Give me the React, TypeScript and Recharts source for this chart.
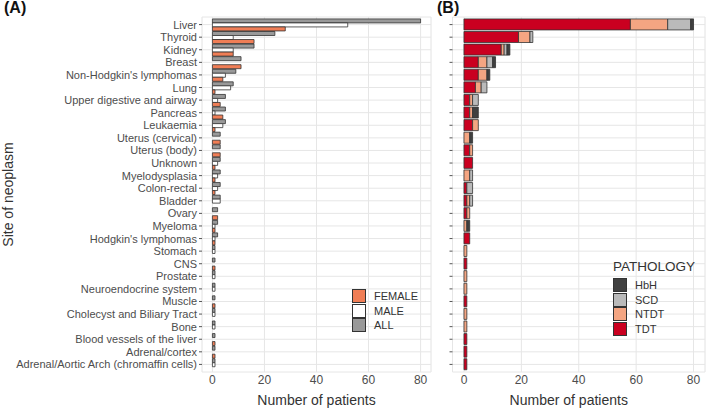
import React from "react";
import {
  BarChart, Bar, XAxis, YAxis, CartesianGrid,
} from "recharts";

// sites, top to bottom
const sites = [
  "Liver", "Thyroid", "Kidney", "Breast", "Non-Hodgkin's lymphomas", "Lung",
  "Upper digestive and airway", "Pancreas", "Leukaemia", "Uterus (cervical)",
  "Uterus (body)", "Unknown", "Myelodysplasia", "Colon-rectal", "Bladder",
  "Ovary", "Myeloma", "Hodgkin's lymphomas", "Stomach", "CNS", "Prostate",
  "Neuroendocrine system", "Muscle", "Cholecyst and Biliary Tract", "Bone",
  "Blood vessels of the liver", "Adrenal/cortex",
  "Adrenal/Aortic Arch (chromaffin cells)",
];

// (A) patients by sex
const female = [28, 16, 8, 11, 4, 1, 3, 4, 1, 3, 3, 1, 1, 1, 0, 2, 1, 1, 0, 1, 0, 0, 1, 0, 0, 1, 1, 0];
const male = [52, 8, 8, 0, 5, 7, 2, 1, 4, 0, 0, 2, 2, 2, 3, 0, 1, 1, 1, 0, 1, 1, 0, 1, 1, 0, 0, 1];
const all = [80, 24, 16, 11, 9, 8, 5, 5, 5, 3, 3, 3, 3, 3, 3, 2, 2, 2, 1, 1, 1, 1, 1, 1, 1, 1, 1, 1];

// (B) patients by pathology
const tdt = [58, 19, 13, 5, 5, 4, 2, 2, 3, 0, 2, 3, 0, 1, 1, 1, 0, 2, 0, 1, 0, 0, 1, 0, 0, 1, 1, 1];
const ntdt = [13, 4, 1, 3, 3, 2, 1, 1, 2, 2, 1, 0, 2, 0, 1, 1, 1, 0, 1, 0, 1, 1, 0, 1, 1, 0, 0, 0];
const scd = [8, 1, 1, 2, 0, 2, 2, 0, 0, 0, 0, 0, 1, 2, 1, 0, 0, 0, 0, 0, 0, 0, 0, 0, 0, 0, 0, 0];
const hbh = [1, 0, 1, 1, 1, 0, 0, 2, 0, 1, 0, 0, 0, 0, 0, 0, 1, 0, 0, 0, 0, 0, 0, 0, 0, 0, 0, 0];

const xTicks = [0, 20, 40, 60, 80];
const minorTicks = [10, 30, 50, 70];

const sexSeries = [
  { key: "all", name: "ALL", color: "#999999" },
  { key: "male", name: "MALE", color: "#ffffff" },
  { key: "female", name: "FEMALE", color: "#f07e56" },
];
const pathSeries = [
  { key: "tdt", name: "TDT", color: "#ca0020" },
  { key: "ntdt", name: "NTDT", color: "#f4a582" },
  { key: "scd", name: "SCD", color: "#bababa" },
  { key: "hbh", name: "HbH", color: "#404040" },
];

const rowsA = sites.map((site, i) => ({ site, female: female[i], male: male[i], all: all[i] }));
const rowsB = sites.map((site, i) => ({ site, tdt: tdt[i], ntdt: ntdt[i], scd: scd[i], hbh: hbh[i] }));

const txt = "#4d4d4d";
const grid = "#e6e6e6";

const SiteTick = (props: any) => (
  <text x={props.x} y={props.y} dy={4} textAnchor="end" fontSize={11} fill={txt}>
    {props.payload.value}
  </text>
);

function LegendBox({ items, title, left, top }: { items: { name: string; color: string }[]; title?: string; left: number; top: number }) {
  return (
    <div style={{ position: "absolute", left, top, fontSize: 11, color: "#333" }}>
      {title && <div style={{ fontSize: 13.5, marginBottom: 4 }}>{title}</div>}
      {items.map((it) => (
        <div key={it.name} style={{ display: "flex", alignItems: "center", height: 14.5 }}>
          <div style={{ width: 12, height: 12, background: it.color, border: "1px solid #333" }} />
          <span style={{ marginLeft: 8 }}>{it.name}</span>
        </div>
      ))}
    </div>
  );
}

// shared axes pieces for both panels
function gridAndX(dx: number) {
  return [
    <XAxis key="minor" xAxisId="minor" type="number" domain={[-4, 84]} ticks={minorTicks} hide />,
    <CartesianGrid key="gminor" xAxisId="minor" horizontal={false} stroke="#f1f1f1" strokeWidth={0.6} />,
    <CartesianGrid key="gmajor" stroke={grid} />,
    <XAxis key="x" type="number" domain={[-4, 84]} ticks={xTicks} axisLine={false} tickLine={false}
      tickSize={0} tickMargin={3} tick={{ fontSize: 12, fill: txt }} height={39}
      label={{ value: "Number of patients", position: "insideBottom", offset: 6, dx, fontSize: 14, fill: "#333" }} />,
  ];
}

export default function App() {
  return (
    <div style={{ position: "relative", width: 709, height: 411, fontFamily: "'Liberation Sans', Arial, sans-serif", background: "#fff" }}>
      <style>{`body{margin:0}`}</style>

      <div style={{ position: "absolute", left: 0, top: 0 }}>
        <BarChart width={440} height={411} data={rowsA} layout="vertical"
          margin={{ top: 17, right: 9, bottom: 0, left: 0 }} barCategoryGap="5%" barGap={0}>
          {gridAndX(0)}
          <YAxis type="category" dataKey="site" width={202} axisLine={false} tickSize={3} tickMargin={2}
            tickLine={{ stroke: "#555" }} interval={0} tick={<SiteTick />} padding={{ top: 1.3, bottom: 1.3 }}
            label={{ value: "Site of neoplasm", angle: -90, position: "insideLeft", offset: 8, fontSize: 14, fill: "#333", style: { textAnchor: "middle" } }} />
          {sexSeries.map((s) => (
            <Bar key={s.key} dataKey={s.key} name={s.name} fill={s.color} stroke="#333" strokeWidth={0.8} isAnimationActive={false} />
          ))}
        </BarChart>
      </div>

      <div style={{ position: "absolute", left: 440, top: 0 }}>
        <BarChart width={269} height={411} data={rowsB} layout="vertical"
          margin={{ top: 17, right: 4, bottom: 0, left: 0 }} barCategoryGap="5%">
          {gridAndX(-10)}
          <YAxis type="category" dataKey="site" width={12.5} axisLine={false} tickSize={3} tickMargin={2}
            tickLine={{ stroke: "#555" }} interval={0} tickFormatter={() => ""} padding={{ top: 1.3, bottom: 1.3 }} />
          {pathSeries.map((s) => (
            <Bar key={s.key} dataKey={s.key} name={s.name} stackId="p" fill={s.color} stroke="#333" strokeWidth={0.8} isAnimationActive={false} />
          ))}
        </BarChart>
      </div>

      <div style={{ position: "absolute", left: 4, top: -1, fontSize: 16, fontWeight: "bold", color: "#111" }}>(A)</div>
      <div style={{ position: "absolute", left: 437, top: -1, fontSize: 16, fontWeight: "bold", color: "#111" }}>(B)</div>

      <LegendBox items={[...sexSeries].reverse()} left={352} top={289} />
      <LegendBox items={[...pathSeries].reverse()} title="PATHOLOGY" left={613} top={259} />
    </div>
  );
}
